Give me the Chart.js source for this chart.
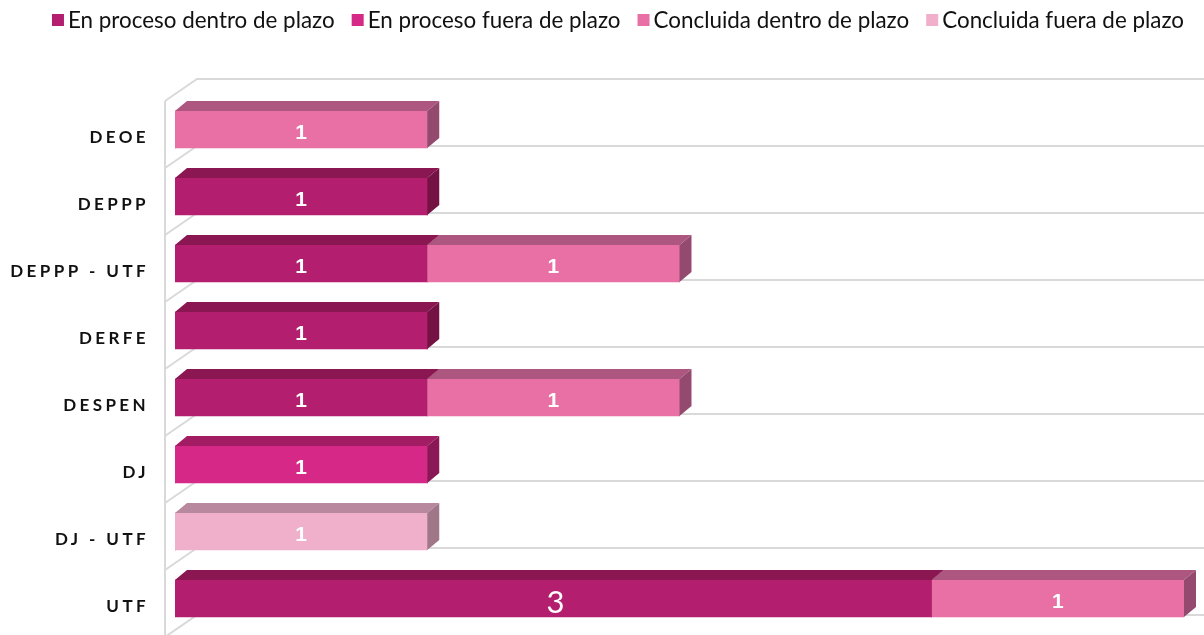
<!DOCTYPE html>
<html><head><meta charset="utf-8">
<script src="https://cdn.jsdelivr.net/npm/chart.js@4.4.0/dist/chart.umd.min.js"></script>
<style>html,body{margin:0;padding:0;background:#fff}#wrap{width:1204px;height:635px;position:relative}</style>
</head><body><div id="wrap"><canvas id="c" width="1204" height="635"></canvas></div>
<script>
const categories = ['DEOE', 'DEPPP', 'DEPPP - UTF', 'DERFE', 'DESPEN', 'DJ', 'DJ - UTF', 'UTF'];
const seriesNames = ['En proceso dentro de plazo', 'En proceso fuera de plazo', 'Concluida dentro de plazo', 'Concluida fuera de plazo'];
const enProcesoDentro = [0, 1, 1, 1, 1, 0, 0, 3];
const enProcesoFuera  = [0, 0, 0, 0, 0, 1, 0, 0];
const concluidaDentro = [1, 0, 1, 0, 1, 0, 0, 1];
const concluidaFuera  = [0, 0, 0, 0, 0, 0, 1, 0];
const xTicks = [0, 1, 2, 3, 4];

const frontColors = ['#B41E6E', '#D62886', '#E870A4', '#F0B0CB'];
const topColors   = ['#8A1652', '#A21C63', '#AD5680', '#B8899E'];
const sideColors  = ['#741244', '#8A1857', '#934A6E', '#A07789'];

const DX = 12, DY = 10;

const threeD = {
  id: 'threeD',
  beforeDatasetsDraw(chart) {
    const ctx = chart.ctx, ca = chart.chartArea, ys = chart.scales.y;
    const n = categories.length;
    ctx.save();
    ctx.strokeStyle = '#D9D9D9';
    ctx.lineWidth = 2;
    const fx = ca.left - 10, bx = ca.left + 22;
    ctx.beginPath();
    ctx.moveTo(fx, ca.top + 5);
    ctx.lineTo(fx, chart.height + 5);
    ctx.stroke();
    for (let j = 0; j <= n; j++) {
      const b = ys.getPixelForValue(j - 0.5);
      ctx.beginPath();
      ctx.moveTo(fx, b + 5);
      ctx.lineTo(bx, b - 17);
      ctx.lineTo(chart.width, b - 17);
      ctx.stroke();
    }
    ctx.restore();
  },
  afterDatasetsDraw(chart) {
    const ctx = chart.ctx;
    ctx.save();
    // 3D faces, drawn in series order so later segments cover earlier side faces
    chart.data.datasets.forEach((ds, i) => {
      const meta = chart.getDatasetMeta(i);
      meta.data.forEach((el, j) => {
        if (!ds.data[j]) return;
        const p = el.getProps(['x', 'y', 'base', 'height'], true);
        const l = Math.min(p.x, p.base), r = Math.max(p.x, p.base);
        const t = p.y - p.height / 2, b = p.y + p.height / 2;
        ctx.fillStyle = frontColors[i];
        ctx.fillRect(l, t, r - l, b - t);
        ctx.fillStyle = topColors[i];
        ctx.beginPath();
        ctx.moveTo(l, t); ctx.lineTo(r, t); ctx.lineTo(r + DX, t - DY); ctx.lineTo(l + DX, t - DY);
        ctx.closePath(); ctx.fill();
        ctx.fillStyle = sideColors[i];
        ctx.beginPath();
        ctx.moveTo(r, t); ctx.lineTo(r + DX, t - DY); ctx.lineTo(r + DX, b - DY); ctx.lineTo(r, b);
        ctx.closePath(); ctx.fill();
      });
    });
    // value labels
    ctx.fillStyle = '#FFFFFF';
    ctx.textAlign = 'center';
    ctx.textBaseline = 'middle';
    chart.data.datasets.forEach((ds, i) => {
      const meta = chart.getDatasetMeta(i);
      meta.data.forEach((el, j) => {
        const v = ds.data[j];
        if (!v) return;
        const p = el.getProps(['x', 'y', 'base'], true);
        if (v > 1) ctx.font = '31px Lato';
        else ctx.font = 'bold 21px "Liberation Sans"';
        ctx.fillText(String(v), (p.x + p.base) / 2 + (v > 1 ? 2 : 0), p.y + 4);
      });
    });
    // category labels
    const ys = chart.scales.y;
    ctx.fillStyle = '#111111';
    ctx.textAlign = 'right';
    ctx.font = 'bold 17px Lato';
    ctx.letterSpacing = '3.4px';
    categories.forEach((c, j) => {
      ctx.fillText(c, 149, ys.getPixelForValue(j) + 8);
    });
    ctx.letterSpacing = '0px';
    // legend
    ctx.font = '22.4px Lato';
    ctx.textAlign = 'left';
    const widths = seriesNames.map(s => ctx.measureText(s).width);
    const gap = 17, boxGap = 4, box = 12;
    let total = widths.reduce((a, w) => a + box + boxGap + w, 0) + gap * (seriesNames.length - 1);
    let x = 1184 - total;
    seriesNames.forEach((s, i) => {
      ctx.fillStyle = frontColors[i];
      ctx.fillRect(x, 14, box, box);
      ctx.fillStyle = '#111111';
      ctx.fillText(s, x + box + boxGap, 21);
      x += box + boxGap + widths[i] + gap;
    });
    ctx.restore();
  }
};

const seriesData = [enProcesoDentro, enProcesoFuera, concluidaDentro, concluidaFuera];

new Chart(document.getElementById('c'), {
  type: 'bar',
  data: {
    labels: categories,
    datasets: seriesNames.map((name, i) => ({
      label: name,
      data: seriesData[i],
      backgroundColor: frontColors[i],
      borderWidth: 0,
      barThickness: 37
    }))
  },
  options: {
    indexAxis: 'y',
    responsive: false,
    animation: false,
    devicePixelRatio: 1,
    layout: { padding: { left: 175, right: 20, top: 96, bottom: 3 } },
    plugins: { legend: { display: false }, tooltip: { enabled: false } },
    scales: {
      x: { stacked: true, min: xTicks[0], max: xTicks[xTicks.length - 1], display: false,
           afterBuildTicks: s => { s.ticks = xTicks.map(v => ({ value: v })); } },
      y: { stacked: true, display: false, offset: true }
    }
  },
  plugins: [threeD]
});
</script>
</body></html>
